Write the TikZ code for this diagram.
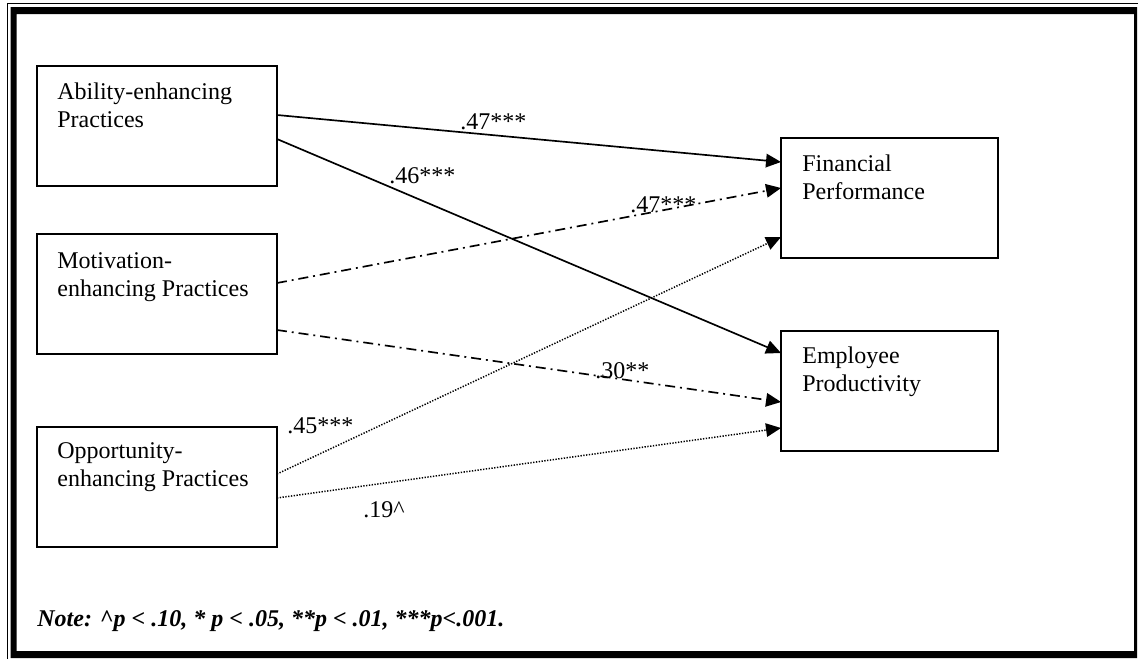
\documentclass[tikz,border=0pt]{standalone}
\usepackage{fontspec}
\setmainfont{Liberation Serif}
\usetikzlibrary{arrows.meta,calc}
\begin{document}
\begin{tikzpicture}[x=0.02cm,y=-0.02cm,
  every node/.style={font=\fontsize{13.66}{15.9}\selectfont},
  lbox/.style={draw, line width=1.1pt, minimum width=4.8cm, minimum height=2.4cm, inner sep=0, outer sep=0},
  rbox/.style={draw, line width=1.1pt, minimum width=4.34cm, minimum height=2.4cm, inner sep=0, outer sep=0},
  btxt/.style={anchor=base west, inner sep=0, align=left},
  coef/.style={anchor=base west, inner sep=0},
  arr/.style={-{Triangle[length=0.3cm,width=0.27cm]}},
  solidarr/.style={arr, line width=0.95pt},
  dasharr/.style={arr, line width=0.95pt, dash pattern=on 5.7pt off 2.8pt on 1.1pt off 2.8pt},
  dotarr/.style={arr, line width=0.85pt, dash pattern=on 0.75pt off 0.85pt}
]
\useasboundingbox (0,0) rectangle (1138,659);
% frame
\fill[black, even odd rule] (10.7,7) rectangle (1137,658) (16.7,14) rectangle (1134,651);
\draw[line width=0.55pt] (7.5,659) -- (7.5,3.8) -- (1138,3.8);
% boxes
\node[lbox] (A) at (157,126) {};
\node[lbox] (M) at (157,294) {};
\node[lbox] (O) at (157,487) {};
\node[rbox] (F) at (889.5,198) {};
\node[rbox] (E) at (889.5,391) {};
% box texts (anchor = baseline of last line)
\node[btxt] (At) at (57,127) {Ability-enhancing\\Practices};
\node[btxt] (Mt) at (57,296) {Motivation-\\enhancing Practices};
\node[btxt] (Ot) at (57,486) {Opportunity-\\enhancing Practices};
\node[btxt] (Ft) at (802,199) {Financial\\Performance};
\node[btxt] (Et) at (802,391) {Employee\\Productivity};
% connectors
\draw[solidarr] ($(A.east)+(0,-11)$) -- ($(F.west)+(0,-36)$);
\draw[solidarr] ($(A.east)+(0,13)$) -- ($(E.west)+(0,-38)$);
\draw[dasharr] ($(M.east)+(0,-11)$) -- ($(F.west)+(0,-10)$);
\draw[dasharr] ($(M.east)+(0,36)$) -- ($(E.west)+(0,11)$);
\draw[dotarr] ($(O.east)+(0,-13)$) -- ($(F.west)+(0,39)$);
\draw[dotarr] ($(O.east)+(0,11)$) -- ($(E.west)+(0,37)$);
% coefficients
\node[coef] (c1) at (460,129) {.47***};
\node[coef] (c2) at (389,183) {.46***};
\node[coef] (c3) at (630,212) {.47***};
\node[coef] (c4) at (595,378) {.30**};
\node[coef] (c5) at (287,433) {.45***};
\node[coef] (c6) at (363,517) {.19\^{}};
% note
\node[coef, font=\fontsize{13.66}{15.9}\selectfont\bfseries\itshape] (note) at (37,626) {Note: \^{}p < .10, * p < .05, **p < .01, ***p<.001.};
\end{tikzpicture}
\end{document}
